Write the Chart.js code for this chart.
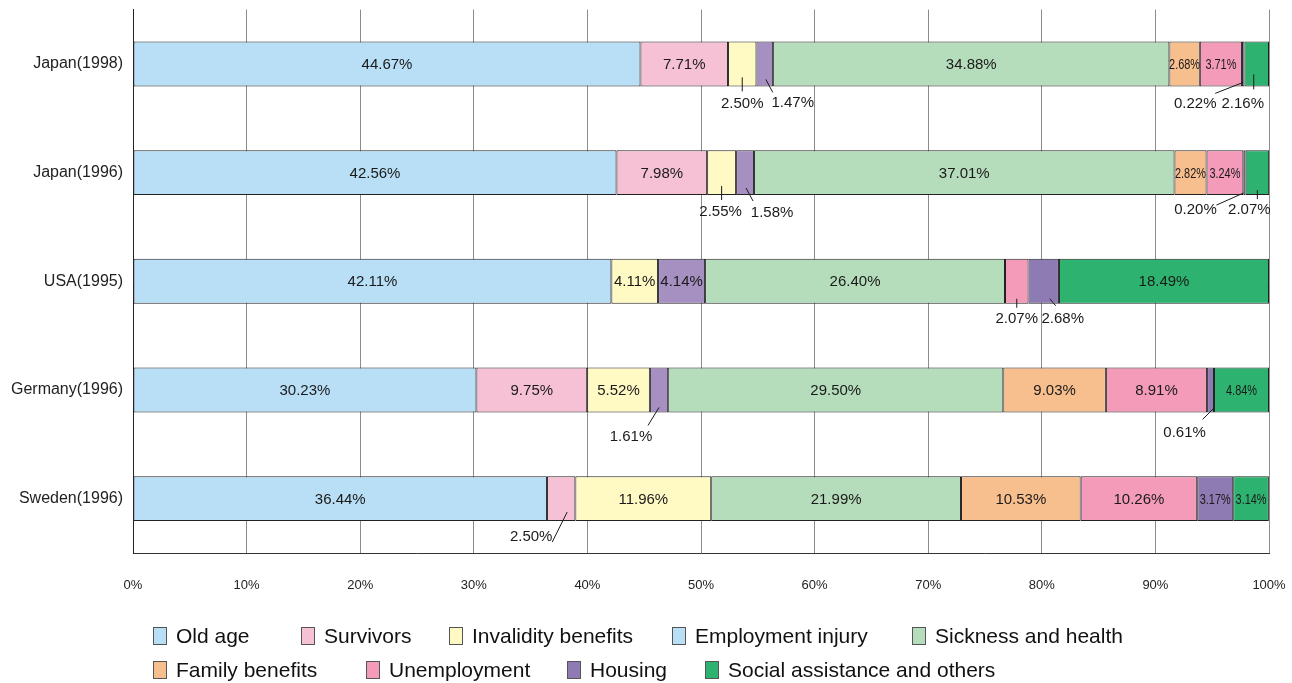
<!DOCTYPE html>
<html>
<head>
<meta charset="utf-8">
<script src="https://cdn.jsdelivr.net/npm/chart.js@4.4.1/dist/chart.umd.min.js"></script>
<style>
  html, body { margin: 0; padding: 0; background: #fff; }
  #wrap { position: relative; width: 1292px; height: 683px; }
  #legend {
    position: absolute; left: 0; top: 0; width: 1292px; height: 683px;
    font-family: 'Liberation Sans', Arial, sans-serif;
    font-size: 21px; color: #111;
  }
  .item { position: absolute; display: flex; align-items: center; white-space: nowrap; height: 22px; }
  .box { width: 14px; height: 18px; border: 1px solid #555; box-sizing: border-box; margin-right: 9px; }
</style>
</head>
<body>
<div id="wrap">
  <canvas id="chart" width="1292" height="683"></canvas>
  <div id="legend"></div>
</div>
<script>
// categories (top to bottom)
const categories = ['Japan(1998)', 'Japan(1996)', 'USA(1995)', 'Germany(1996)', 'Sweden(1996)'];

// series values, % of social security expenditure
const oldAge           = [44.67, 42.56, 42.11, 30.23, 36.44];
const survivors        = [7.71, 7.98, null, 9.75, 2.50];
const invalidity       = [2.50, 2.55, 4.11, 5.52, 11.96];
const employmentInjury = [1.47, 1.58, 4.14, 1.61, null];
const sickness         = [34.88, 37.01, 26.40, 29.50, 21.99];
const family           = [2.68, 2.82, null, 9.03, 10.53];
const unemployment     = [3.71, 3.24, 2.07, 8.91, 10.26];
const housing          = [0.22, 0.20, 2.68, 0.61, 3.17];
const socialAssistance = [2.16, 2.07, 18.49, 4.84, 3.14];

const seriesNames = ['Old age', 'Survivors', 'Invalidity benefits', 'Employment injury',
  'Sickness and health', 'Family benefits', 'Unemployment', 'Housing', 'Social assistance and others'];

const xTickLabels = ['0%', '10%', '20%', '30%', '40%', '50%', '60%', '70%', '80%', '90%', '100%'];

// styling
const barColors = ['#b8dff6', '#f6c1d5', '#fff9c4', '#a690c2', '#b5dcbb', '#f8bf8e', '#f49bb9', '#8f7bb3', '#2db36f'];
const legendColors = ['#b8dff6', '#f6c1d5', '#fff9c4', '#b8dff6', '#b5dcbb', '#f8bf8e', '#f49bb9', '#8f7bb3', '#2db36f'];

// legend placement: [left, centerY] per series
const legendSpots = [[153, 636], [301, 636], [449, 636], [672, 636], [912, 636],
  [153, 670], [366, 670], [567, 670], [705, 670]];

// labels squeezed into narrow segments ("dataset,category")
const narrowLabels = ['5,0', '6,0', '5,1', '6,1', '8,3', '7,4', '8,4'];

// callouts for tiny segments: offsets from segment centre / bar bottom
const callouts = {
  '2,0': { l: [0, -9, 0, 5], t: [0, 17] },
  '3,0': { l: [1, -7, 8, 6], t: [28, 16] },
  '7,0': { l: [0, -4, -28, 7], t: [-48, 17] },
  '8,0': { l: [-3, -12, -3, 3], t: [-14, 17] },
  '2,1': { l: [0, -9, 0, 5], t: [-1, 17] },
  '3,1': { l: [1, -7, 8, 6], t: [27, 18] },
  '7,1': { l: [-1, -2, -28, 10], t: [-49, 15] },
  '8,1': { l: [0, -5, 0, 4], t: [-8, 15] },
  '6,2': { l: [0, -5, 0, 4], t: [0, 15] },
  '7,2': { l: [6, -5, 12, 2], t: [19, 15] },
  '3,3': { l: [0, -5, -11, 13], t: [-28, 24] },
  '7,3': { l: [3, -4, -8, 7], t: [-26, 20] },
  '1,4': { l: [6, -9, -9, 21], t: [-30, 16] }
};

const seriesData = [oldAge, survivors, invalidity, employmentInjury, sickness,
  family, unemployment, housing, socialAssistance];

const segmentLabels = {
  id: 'segmentLabels',
  afterDatasetsDraw(chart) {
    const ctx = chart.ctx;
    ctx.save();
    ctx.font = '15px "Liberation Sans", Arial, sans-serif';
    ctx.fillStyle = '#1a1a1a';
    ctx.strokeStyle = '#1a1a1a';
    ctx.lineWidth = 1;
    ctx.textBaseline = 'middle';
    ctx.textAlign = 'center';
    chart.data.datasets.forEach((ds, di) => {
      chart.getDatasetMeta(di).data.forEach((bar, ci) => {
        const v = ds.data[ci];
        if (v == null) return;
        const p = bar.getProps(['x', 'y', 'base', 'height'], true);
        const cx = (p.x + p.base) / 2;
        const bottom = p.y + p.height / 2;
        const text = v.toFixed(2) + '%';
        const co = callouts[di + ',' + ci];
        if (co) {
          ctx.beginPath();
          ctx.moveTo(cx + co.l[0], bottom + co.l[1]);
          ctx.lineTo(cx + co.l[2], bottom + co.l[3]);
          ctx.stroke();
          ctx.fillText(text, cx + co.t[0], bottom + co.t[1]);
        } else if (narrowLabels.includes(di + ',' + ci)) {
          ctx.fillText(text, cx, p.y + 1, 31);
        } else {
          ctx.fillText(text, cx, p.y + 1);
        }
      });
    });
    ctx.restore();
  }
};

Chart.defaults.font.family = '"Liberation Sans", Arial, sans-serif';
Chart.defaults.color = '#222';

new Chart(document.getElementById('chart'), {
  type: 'bar',
  data: {
    labels: categories,
    datasets: seriesData.map((d, i) => ({
      label: seriesNames[i],
      data: d,
      backgroundColor: barColors[i],
      borderColor: '#222',
      borderWidth: 1,
      borderSkipped: false,
      barPercentage: 0.413,
      categoryPercentage: 1
    }))
  },
  options: {
    indexAxis: 'y',
    responsive: false,
    animation: false,
    layout: { padding: { top: 8, right: 23, left: 0, bottom: 0 } },
    plugins: {
      legend: { display: false },
      tooltip: { enabled: false }
    },
    scales: {
      x: {
        stacked: true,
        min: 0,
        max: 100,
        ticks: {
          stepSize: 10,
          padding: 0,
          font: { size: 13 },
          color: '#222',
          callback: (v, i) => xTickLabels[i]
        },
        // invisible tick marks push the labels down without adding side padding
        grid: { color: '#8c8c8c', drawTicks: true, tickLength: 25, tickColor: 'rgba(0,0,0,0)' },
        border: { color: '#333' },
        afterFit: (s) => { s.height = 130; }
      },
      y: {
        stacked: true,
        ticks: { padding: 0, font: { size: 16 }, color: '#222' },
        grid: { display: true, drawOnChartArea: false, drawTicks: true, tickLength: 10, tickColor: 'rgba(0,0,0,0)' },
        border: { color: '#222' },
        afterFit: (s) => { s.width = 133; }
      }
    }
  },
  plugins: [segmentLabels]
});

// legend drawn as html, Employment injury keeps its light-blue key like the source
const legendEl = document.getElementById('legend');
seriesNames.forEach((name, i) => {
  const item = document.createElement('div');
  item.className = 'item';
  item.style.left = legendSpots[i][0] + 'px';
  item.style.top = (legendSpots[i][1] - 11) + 'px';
  const box = document.createElement('span');
  box.className = 'box';
  box.style.background = legendColors[i];
  item.appendChild(box);
  item.appendChild(document.createTextNode(name));
  legendEl.appendChild(item);
});
</script>
</body>
</html>
